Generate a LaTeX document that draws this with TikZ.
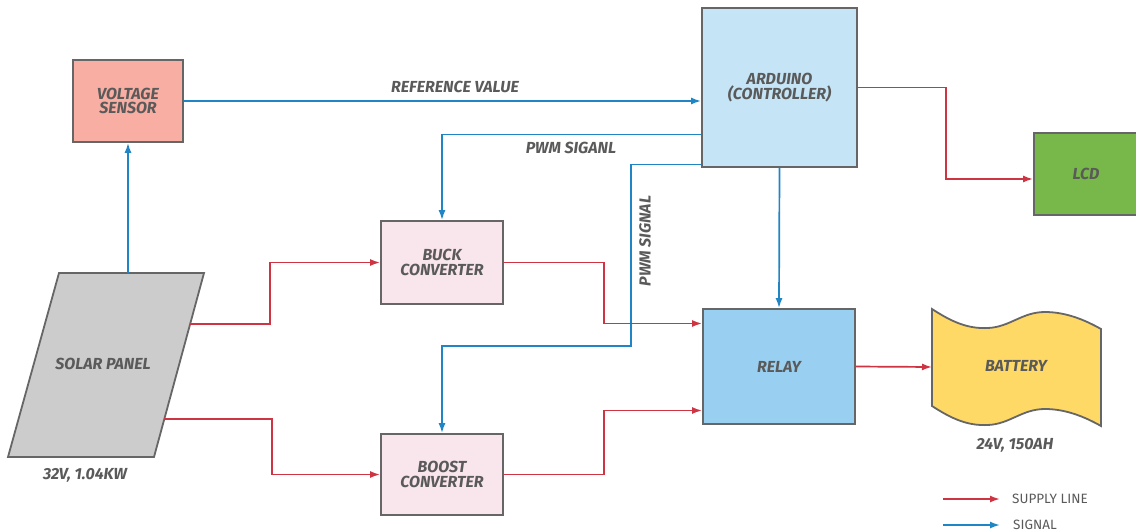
\documentclass[tikz,border=0pt]{standalone}
\usepackage{fontspec}
\setmainfont{Fira Sans}
\usetikzlibrary{calc, arrows.meta}
\definecolor{linegray}{HTML}{666666}
\definecolor{textgray}{HTML}{5A5A5A}
\definecolor{supred}{HTML}{CF3443}
\definecolor{sigblue}{HTML}{1F85C4}
\definecolor{sensfill}{HTML}{F8AEA2}
\definecolor{solarfill}{HTML}{CCCCCC}
\definecolor{convfill}{HTML}{F9E5EC}
\definecolor{ardfill}{HTML}{C5E4F6}
\definecolor{relayfill}{HTML}{99D0F1}
\definecolor{lcdfill}{HTML}{78B84A}
\definecolor{battfill}{HTML}{FFD966}
\newcommand{\dgfont}{\fontsize{16}{14.5}\selectfont\bfseries\itshape}
\newcommand{\legfont}{\fontsize{13.5}{14}\selectfont}

\begin{document}
\begin{tikzpicture}[x=1pt, y=-1pt,
    box/.style={draw=linegray, line width=1.8pt, inner sep=0pt, align=center, text=textgray, font=\dgfont},
    lbl/.style={text=textgray, font=\dgfont, inner sep=0pt},
    legend/.style={text=textgray, font=\legfont, inner sep=0pt, anchor=west},
    sup/.style={draw=supred, line width=1.7pt, -{Latex[length=10pt, width=7pt]}},
    sig/.style={draw=sigblue, line width=1.7pt, -{Latex[length=10pt, width=7pt]}}]
        \useasboundingbox (0,0) rectangle (1136,531);
        \fill[white] (0,0) rectangle (1136,531);

        \node[box, fill=sensfill, minimum width=110, minimum height=82] (vsens) at (128,101) {VOLTAGE\\SENSOR};
        \node[box, fill=ardfill, minimum width=155, minimum height=159] (ard) at (779.5,87.5) {ARDUINO\\(CONTROLLER)};
        \node[box, fill=convfill, minimum width=122, minimum height=83] (buck) at (442,262.5) {BUCK\\CONVERTER};
        \node[box, fill=convfill, minimum width=122, minimum height=81] (boost) at (442,474.5) {BOOST\\CONVERTER};
        \node[box, fill=relayfill, minimum width=152, minimum height=115] (relay) at (779,366.5) {RELAY};
        \node[box, fill=lcdfill, minimum width=104, minimum height=82] (lcd) at (1086,174) {LCD};

        \draw[draw=linegray, line width=1.8pt, fill=solarfill] (59,273) -- (204,273) -- (154,457) -- (8,457) -- cycle;
        \node[lbl] (solar) at (103,364) {SOLAR PANEL};
        \coordinate (sptop) at (128,273);
        \coordinate (spa) at (190,324);
        \coordinate (spb) at (164,419);

        \draw[draw=linegray, line width=1.8pt, fill=battfill]
            (932,309) .. controls (952,322) and (968,329) .. (988,328)
            .. controls (1010,327) and (1022,312) .. (1045,312)
            .. controls (1066,312) and (1085,320) .. (1101,329)
            -- (1101,426)
            .. controls (1085,417) and (1066,409) .. (1045,409)
            .. controls (1022,409) and (1010,424) .. (988,425)
            .. controls (968,426) and (952,419) .. (932,406) -- cycle;
        \node[lbl] (batt) at (1016,366) {BATTERY};
        \coordinate (battin) at (932,367);

        \node[lbl] (panelspec) at (85,475) {32V, 1.04KW};
        \node[lbl] (battspec) at (1015,445) {24V, 150AH};
        \node[lbl] (refval) at (455,87) {REFERENCE VALUE};
        \node[lbl] (pwmbuck) at (571,148) {PWM SIGANL};
        \node[lbl, rotate=90] (pwmboost) at (645,241) {PWM SIGNAL};

        \draw[sig] (sptop) -- (vsens.south);
        \draw[sig] (vsens.east) -- (vsens.east -| ard.west);
        \draw[sig] ([yshift=-47pt]ard.west) -| (buck.north);
        \draw[sig] ([yshift=-77pt]ard.west) -| (631,346) -| (boost.north);
        \draw[sig] (ard.south) -- (relay.north);
        \draw[sup] (ard.east) -- ++(88,0) |- ([yshift=-5pt]lcd.west);
        \draw[sup] (spa) -- ++(80,0) |- (buck.west);
        \draw[sup] (spb) -- ++(108,0) |- (boost.west);
        \draw[sup] (buck.east) -- ++(100,0) |- ([yshift=43pt]relay.west);
        \draw[sup] (boost.east) -- ++(100,0) |- ([yshift=-44pt]relay.west);
        \draw[sup] (relay.east) -- (battin);

        \coordinate (supa) at (943,499);
        \coordinate (supb) at (1000,499);
        \coordinate (siga) at (943,525);
        \coordinate (sigb) at (1000,525);
        \node[legend] (legsup) at (1012,499) {SUPPLY LINE};
        \node[legend] (legsig) at (1013,525) {SIGNAL};
        \draw[sup] (supa) -- (supb);
        \draw[sig] (siga) -- (sigb);
    \end{tikzpicture}
\end{document}
